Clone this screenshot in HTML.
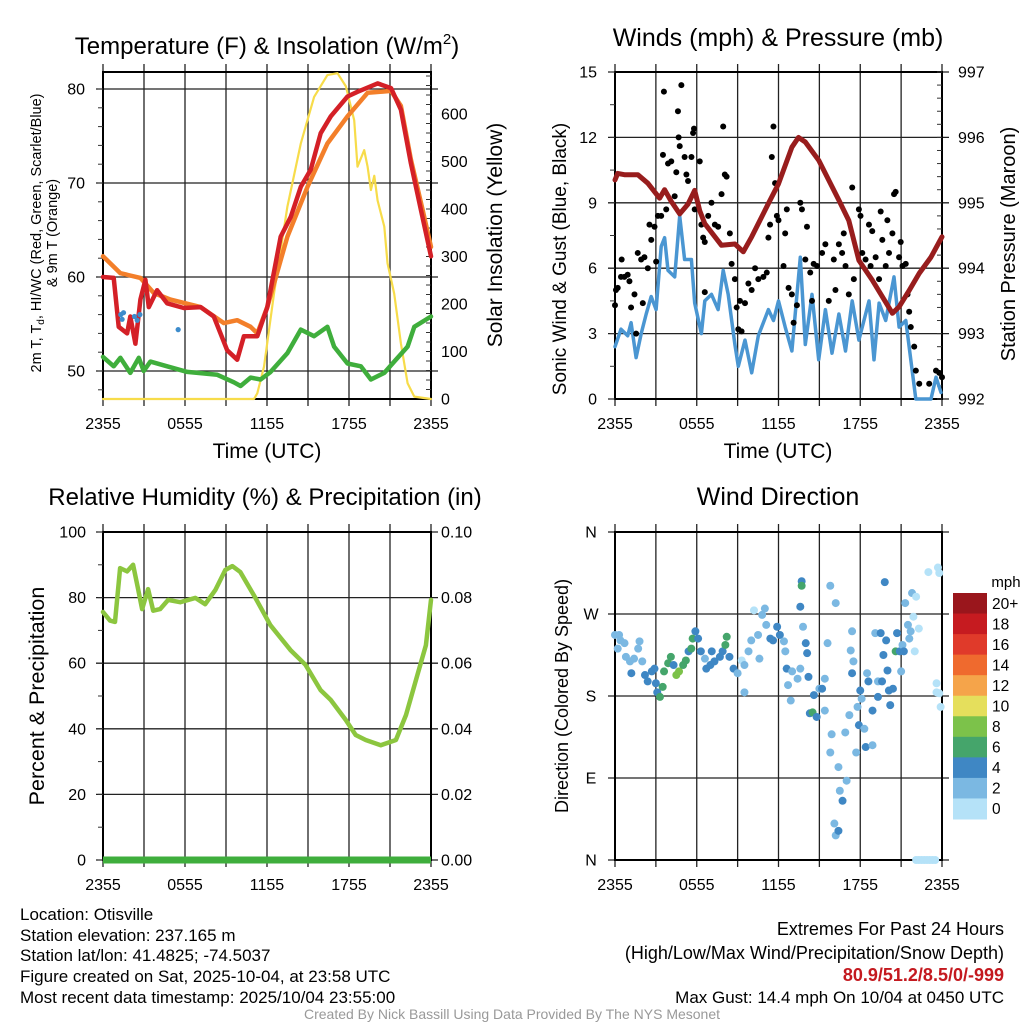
<!DOCTYPE html>
<html><head><meta charset="utf-8"><style>
body{margin:0;background:#fff}
svg{display:block;font-family:"Liberation Sans",sans-serif}
</style></head><body>
<svg id="fig" width="1024" height="1024" viewBox="0 0 1024 1024">
<g id="gp1"></g>
<g id="gp2"></g>
<g id="gp3"></g>
<g id="gp4"></g>
<g id="texts">
<text x="267" y="54" font-size="24" text-anchor="middle">Temperature (F) &amp; Insolation (W/m<tspan font-size="15" dy="-10">2</tspan><tspan dy="10">)</tspan></text>
<text x="778" y="46" font-size="25" text-anchor="middle">Winds (mph) &amp; Pressure (mb)</text>
<text x="265" y="505" font-size="24" text-anchor="middle">Relative Humidity (%) &amp; Precipitation (in)</text>
<text x="778" y="505" font-size="25" text-anchor="middle">Wind Direction</text>
<text x="267" y="458" font-size="21" text-anchor="middle">Time (UTC)</text>
<text x="778" y="458" font-size="21" text-anchor="middle">Time (UTC)</text>
<g font-size="14.5" text-anchor="middle">
<text transform="translate(41,233) rotate(-90)">2m T, T<tspan font-size="10" dy="3">d</tspan><tspan dy="-3">, HI/WC (Red, Green, Scarlet/Blue)</tspan></text>
<text transform="translate(57,233) rotate(-90)">&amp; 9m T (Orange)</text>
</g>
<text transform="translate(502,235) rotate(-90)" font-size="21" text-anchor="middle">Solar Insolation (Yellow)</text>
<text transform="translate(566,259) rotate(-90)" font-size="19" text-anchor="middle">Sonic Wind &amp; Gust (Blue, Black)</text>
<text transform="translate(1015,244) rotate(-90)" font-size="20" text-anchor="middle">Station Pressure (Maroon)</text>
<text transform="translate(44,696) rotate(-90)" font-size="21.5" text-anchor="middle">Percent &amp; Precipitation</text>
<text transform="translate(568,696) rotate(-90)" font-size="18" text-anchor="middle">Direction (Colored By Speed)</text>
<g font-size="17">
<text x="20" y="920">Location: Otisville</text>
<text x="20" y="941">Station elevation: 237.165 m</text>
<text x="20" y="961">Station lat/lon: 41.4825; -74.5037</text>
<text x="20" y="982">Figure created on Sat, 2025-10-04, at 23:58 UTC</text>
<text x="20" y="1003">Most recent data timestamp: 2025/10/04 23:55:00</text>
</g>
<g font-size="18" text-anchor="end">
<text x="1004" y="935">Extremes For Past 24 Hours</text>
<text x="1004" y="959">(High/Low/Max Wind/Precipitation/Snow Depth)</text>
<text x="1004" y="981" fill="#c4191f" font-weight="bold">80.9/51.2/8.5/0/-999</text>
<text x="1004" y="1003" font-size="17">Max Gust: 14.4 mph On 10/04 at 0450 UTC</text>
</g>
<text x="512" y="1019" font-size="14" fill="#999" text-anchor="middle">Created By Nick Bassill Using Data Provided By The NYS Mesonet</text>
</g>
</svg>
<script>
// ---- Panel 1 data ----
const tempH=[0,0.78,1.15,1.76,2.0,2.37,2.74,3.1,3.35,3.96,4.69,5.91,7.14,8.11,9.09,9.82,10.31,11.29,12.02,13.0,13.74,14.47,15.2,15.93,16.67,17.89,18.62,20.09,21.07,21.8,22.53,23.27,24];
const tempV=[60.0,59.9,54.7,54.0,55.8,52.9,57.6,59.7,56.8,58.6,57.2,56.7,56.8,55.8,52.2,51.2,53.7,53.7,56.8,64.3,66.4,69.6,71.4,75.3,77.1,79.2,79.7,80.6,80.1,77.8,72.1,67.1,62.2];
const t9H=[0,1.27,2.74,3.72,4.94,7.14,8.85,9.82,10.8,11.29,12.02,13.49,14.96,16.42,17.89,19.36,21.07,21.8,22.53,23.39,24];
const t9V=[62.2,60.4,59.9,58.3,57.6,56.8,55.1,55.4,54.7,54.0,56.8,64.3,69.6,74.2,77.1,79.6,79.8,78.2,72.5,67.1,63.2];
const dewH=[0,0.78,1.27,2.0,2.62,2.98,3.47,4.69,6.16,8.36,9.58,10.07,10.8,11.53,12.26,13.49,14.47,15.45,16.42,16.91,17.89,18.87,19.6,20.58,21.31,22.29,22.78,24];
const dewV=[51.5,50.5,51.4,49.8,51.4,50.0,51.0,50.5,49.9,49.6,48.8,48.4,49.3,49.1,49.9,51.9,54.4,53.7,54.7,52.6,50.8,50.5,49.1,49.8,51.0,52.6,54.7,55.8];
const hiH=[1.3,1.4,1.5,2.3,2.5,2.7,5.5];
const hiV=[56.0,55.5,56.2,55.8,55.4,56.0,54.4];
const solH=[0,11.05,11.29,11.78,12.51,13.49,14.47,15.45,16.42,17.16,17.77,18.38,18.62,19.11,19.36,19.6,19.85,20.09,20.58,20.82,21.31,21.8,22.29,22.78,24];
const solV=[0,0,12,68,222,405,538,636,682,686,658,587,489,524,489,440,470,418,363,286,222,117,33,5,0];
const tempTicks=[50,60,70,80];
const solTicks=[0,100,200,300,400,500,600];
const timeLabels=["2355","0555","1155","1755","2355"];
// ---- Panel 2 data ----
const presH=[0,0.2,0.69,1.67,2.41,3.27,3.64,4.13,4.75,5.36,5.85,6.22,6.59,7.82,8.8,9.42,10.03,11.26,12.0,12.98,13.47,13.97,14.95,16.43,17.16,17.9,18.88,20.36,20.85,21.59,22.33,23.19,24];
const presV=[995.35,995.45,995.43,995.43,995.3,995.07,995.2,995.02,994.83,994.98,995.19,994.88,994.68,994.35,994.37,994.25,994.48,994.99,995.29,995.85,996.0,995.93,995.65,995.04,994.73,994.12,993.82,993.31,993.41,993.66,993.92,994.17,994.48];
const windH=[0,0.44,0.93,1.18,1.55,1.92,2.29,2.66,3.02,3.39,3.64,3.89,4.38,4.75,5.11,5.61,5.85,6.34,6.59,7.08,7.57,7.94,8.31,8.8,9.05,9.54,10.03,10.52,11.26,11.63,12.0,12.49,12.98,13.6,13.97,14.46,14.95,15.44,15.93,16.43,16.92,17.41,17.9,18.64,19.01,19.38,19.87,20.48,20.85,21.34,21.71,22.08,23.19,23.56,23.93];
const windV=[2.4,3.2,2.9,3.5,1.9,3.0,3.9,4.7,4.1,7.0,7.4,5.9,5.6,8.4,6.4,6.4,4.4,3.0,4.5,4.8,4.1,5.9,4.8,2.5,1.5,2.7,1.2,2.9,4.1,3.6,4.5,3.3,2.2,6.5,2.5,4.8,1.8,4.1,2.1,3.9,2.2,4.5,2.7,4.5,1.8,4.4,3.6,5.6,3.3,3.6,1.8,0,0,1.0,0.3];
const gustH=[0,0.07,0.2,0.44,0.49,0.69,0.93,1.06,1.18,1.43,1.55,1.67,1.92,2.04,2.16,2.41,2.53,2.66,2.9,3.02,3.15,3.39,3.52,3.59,3.76,3.89,4.13,4.38,4.5,4.62,4.67,4.75,4.87,5.11,5.24,5.36,5.61,5.73,5.8,5.85,6.22,6.34,6.47,6.59,6.59,6.84,7.08,7.33,7.57,7.82,7.94,8.06,8.19,8.43,8.56,8.8,8.93,9.05,9.17,9.29,9.54,9.79,10.03,10.28,10.52,10.89,11.14,11.26,11.38,11.51,11.63,11.75,11.88,12.0,12.37,12.49,12.61,12.74,12.98,13.11,13.35,13.6,13.72,13.97,14.09,14.33,14.46,14.58,14.83,15.2,15.44,15.69,16.06,16.18,16.43,16.67,16.79,16.92,17.16,17.41,17.53,17.9,18.02,18.15,18.39,18.64,18.76,18.88,19.13,19.38,19.5,19.62,19.87,19.99,20.11,20.36,20.48,20.6,20.85,20.97,21.1,21.34,21.47,21.59,21.71,21.96,22.08,22.33,23.06,23.56,23.8,24.0];
const gustV=[4.3,5.0,5.1,5.6,6.4,5.6,5.7,5.4,4.2,4.8,3.0,6.7,6.4,4.4,6.5,6.0,8.0,7.3,7.9,6.3,8.4,8.4,11.2,14.1,8.7,10.8,10.9,9.3,10.4,13.2,12.0,11.6,14.4,11.1,10.3,10.0,11.1,12.2,12.4,8.7,10.9,8.0,7.4,7.2,4.9,8.4,9.0,8.0,7.9,9.4,12.5,10.3,10.2,7.6,6.2,5.5,4.2,3.2,4.5,3.1,4.4,5.3,5.0,6.0,5.5,5.6,5.8,7.4,8.0,11.1,12.5,9.9,8.4,8.2,6.1,7.6,8.7,5.1,4.8,3.5,4.3,9.0,8.7,6.4,7.9,5.8,4.5,6.2,6.1,6.7,7.1,4.5,6.4,5.0,7.1,6.7,7.6,6.1,4.8,9.7,5.5,8.7,8.4,6.7,6.4,8.0,6.1,7.7,6.5,5.5,8.6,7.3,6.1,8.2,6.7,7.6,9.4,9.5,6.5,7.2,6.1,6.2,4.8,4.0,3.3,2.4,1.3,0.7,0.7,1.3,1.2,1.0];
const windTicks=[0,3,6,9,12,15];
const presTicks=[992,993,994,995,996,997];
// ---- Panel 3 data ----
const rhH=[0,0.51,0.88,1.25,1.76,2.2,2.57,2.86,3.3,3.67,4.18,4.77,5.65,6.75,7.48,8.22,8.95,9.46,10.05,11.15,12.25,13.72,14.82,15.92,16.66,17.76,18.49,19.22,20.33,21.43,22.17,22.9,23.63,24];
const rhV=[75.6,73,72.6,89,88,90,82.6,76.5,82.6,76,76.5,79.3,78.6,79.9,78,82.3,88.4,89.6,87.8,79.9,71.6,64,59.5,51.8,48.8,42.7,38.1,36.6,35,36.6,44.2,54.9,65.5,79.3];
const rhTicks=[0,20,40,60,80,100];
const precipTicks=["0.00","0.02","0.04","0.06","0.08","0.10"];
// ---- Panel 4 data ----
const dirH=[0,0.3,0.4,0.2,0.7,0.8,1.1,1.2,1.4,1.7,1.8,2.0,2.2,2.4,2.7,2.9,3.0,3.1,3.3,3.5,3.6,3.9,4.1,4.3,4.5,4.7,5.0,5.2,5.4,5.6,5.7,5.9,6.1,6.3,6.6,6.7,7.0,7.1,7.3,7.7,7.9,8.1,8.2,8.4,8.7,9.0,9.3,9.5,9.5,9.8,10.0,10.2,10.5,10.6,10.8,11.0,11.1,11.4,11.6,11.9,12.1,12.4,12.5,12.6,12.7,12.9,13.0,13.4,13.6,13.7,13.7,13.6,13.8,14.0,14.1,14.2,14.3,14.5,14.6,14.8,15.0,15.2,15.4,15.4,15.6,15.8,15.9,15.8,16.2,16.4,16.5,16.7,16.9,17.0,17.2,17.3,17.4,17.4,17.5,17.7,17.8,17.9,18.0,18.1,18.3,18.4,18.5,18.6,18.9,18.9,19.1,19.3,19.3,19.5,19.6,19.7,19.8,19.9,20.0,20.1,20.2,20.4,20.6,20.7,20.9,21.0,21.1,21.2,21.3,21.5,21.6,21.7,21.8,21.9,22.0,22.1,22.3,23.0,23.7,23.8,23.6,23.6,23.8,23.9,16.1,16.2,16.4,22.1,22.3,22.5,22.7,22.9,23.1,23.3,23.5];
const dirV=[247,247,241,232,238,223,218,205,221,232,240,218,203,196,207,210,194,184,179,190,207,216,223,214,203,207,214,219,229,232,243,251,243,229,221,210,214,229,218,223,229,236,245,223,210,205,219,214,184,229,241,274,247,221,269,276,258,243,241,256,247,240,229,210,192,175,207,199,210,306,301,278,256,238,227,201,161,162,181,157,188,188,164,199,238,301,138,118,282,102,76,65,140,87,159,230,251,205,218,118,168,148,186,177,144,124,205,196,126,164,249,179,196,249,196,225,305,241,208,186,170,188,229,249,229,207,236,229,282,258,243,251,293,267,229,289,254,316,321,315,194,184,183,168,40,27,32,0,0,0,0,0,0,0,0];
const dirSpd=[3,3,3,3,3,3,3,5,3,3,3,3,5,5,5,5,5,5,7,7,7,7,7,5,9,9,7,7,5,7,7,5,5,5,3,5,5,5,5,5,5,7,7,5,5,3,1,3,3,3,3,1,3,3,3,3,3,5,5,5,5,3,3,5,3,3,3,3,3,5,7,5,3,5,5,5,5,7,5,5,3,5,3,3,3,3,3,3,3,3,3,5,3,3,3,3,3,5,3,3,3,5,5,3,3,5,3,5,3,5,3,5,3,5,5,5,5,5,5,5,5,5,7,5,5,3,3,5,3,3,3,3,3,1,1,1,1,1,1,1,1,1,1,1,3,3,5,1,1,1,1,1,1,1,1];
const dirTicks=["N","E","S","W","N"];
const speedBins=["0","2","4","6","8","10","12","14","16","18","20+"];
const binColors=["#b5e2f8","#7bb8e2","#3f87c4","#45a56b","#7cc24a","#e5df5c","#f5a44a","#ef6a2e","#e03a2a","#c61b20","#9a161c"];

const NS="http://www.w3.org/2000/svg";
function mk(parent,tag,attrs){const e=document.createElementNS(NS,tag);for(const k in attrs)e.setAttribute(k,attrs[k]);parent.appendChild(e);return e;}
function axX(x0,x1){return h=>x0+h/24*(x1-x0);}
function axY(y0,y1,v0,v1){return v=>y0+(v-v0)/(v1-v0)*(y1-y0);}
function pathD(hs,vs,sx,sy){return hs.map((h,i)=>(i?'L':'M')+sx(h).toFixed(1)+','+sy(vs[i]).toFixed(1)).join('');}

function frame(g,L,R,T,B,hLines,name){
  const sx=axX(L,R);
  for(let h=0;h<=24;h+=3){
    const x=sx(h);
    const ln=mk(g,'line',{x1:x,x2:x,y1:T-8,y2:B+7,stroke:'#222','stroke-width':1.3});
    
    
  }
  hLines.forEach(y=>{
    const ln=mk(g,'line',{x1:L-7,x2:R+7,y1:y,y2:y,stroke:'#222','stroke-width':1.3});
    
    
  });
  const bx=mk(g,'rect',{x:L,y:T,width:R-L,height:B-T,fill:'none',stroke:'#000','stroke-width':2});
  
  
  timeLabels.forEach((t,i)=>{
    const tx=mk(g,'text',{x:sx(i*6),y:B+30,'font-size':16,'text-anchor':'middle'});
    tx.textContent=t;
    
    
  });
  return sx;
}
function ylabels(g,vals,labels,sy,x,anchor,name){
  vals.forEach((v,i)=>{
    const t=mk(g,'text',{x:x,y:sy(v)+5.5,'font-size':16,'text-anchor':anchor});
    t.textContent=labels[i];
    
    
  });
}
function minorTicks(g,x,dir,from,to,step,sy){
  for(let v=from;v<=to+1e-9;v+=step){const y=sy(v);mk(g,'line',{x1:x,x2:x+dir*5,y1:y,y2:y,stroke:'#333','stroke-width':1});}
}
function line(g,hs,vs,sx,sy,col,w,name){
  const p=mk(g,'path',{d:pathD(hs,vs,sx,sy),fill:'none',stroke:col,'stroke-width':w,'stroke-linejoin':'round','stroke-linecap':'round'});
  
  
}

// Panel 1
(function(){
  const g=document.getElementById('gp1');
  const L=103,R=431,T=72,B=399;
  const sy=axY(371,89,50,80);
  const sS=axY(399,114,0,600);
  const sx=frame(g,L,R,T,B,tempTicks.map(sy),'temp');
  minorTicks(g,L,-1,48,80,2,sy);
  minorTicks(g,R,-1,0,680,20,sS);
  ylabels(g,tempTicks,tempTicks.map(String),sy,85,'end','temp-tick-label');
  ylabels(g,solTicks,solTicks.map(String),sS,441,'start','solar-tick-label');
  line(g,solH,solV,sx,sS,'#f7dc4a',2.2,'solar-line');
  line(g,dewH,dewV,sx,sy,'#3fae3c',4.5,'dewpoint-line');
  line(g,t9H,t9V,sx,sy,'#f37f2a',4.5,'temp-9m-line');
  line(g,tempH,tempV,sx,sy,'#d42027',4.5,'temp-2m-line');
  hiH.forEach((h,i)=>{const c=mk(g,'circle',{cx:sx(h),cy:sy(hiV[i]),r:2.6,fill:'#3d8ccc'});
    
    });
})();
// Panel 2
(function(){
  const g=document.getElementById('gp2');
  const L=615,R=942,T=72,B=399;
  const sy=axY(399,72,0,15);
  const sP=axY(399,72,992,997);
  const sx=frame(g,L,R,T,B,windTicks.map(sy),'wind');
  minorTicks(g,L,-1,0,15,1.5,sy);
  minorTicks(g,R,-1,992,997,0.2,sP);
  ylabels(g,windTicks,windTicks.map(String),sy,597,'end','wind-tick-label');
  ylabels(g,presTicks,presTicks.map(String),sP,958,'start','pressure-tick-label');
  line(g,windH,windV,sx,sy,'#4a96d2',3.5,'wind-speed-line');
  gustH.forEach((h,i)=>{const c=mk(g,'circle',{cx:sx(h),cy:sy(gustV[i]),r:3,fill:'#000'});
    
    });
  line(g,presH,presV,sx,sP,'#981d1d',5,'pressure-line');
})();
// Panel 3
(function(){
  const g=document.getElementById('gp3');
  const L=103,R=431,T=532,B=860;
  const sy=axY(860,532,0,100);
  const sx=frame(g,L,R,T,B,rhTicks.map(sy),'rh');
  minorTicks(g,L,-1,0,100,10,sy);
  ylabels(g,rhTicks,rhTicks.map(String),sy,86,'end','rh-tick-label');
  ylabels(g,rhTicks,precipTicks,sy,441,'start','precip-tick-label');
  line(g,rhH,rhV,sx,sy,'#8cc63f',4.5,'rh-line');
  const p=mk(g,'line',{x1:L,x2:R,y1:sy(0),y2:sy(0),stroke:'#3fae3c','stroke-width':7});
  
  
})();
// Panel 4
(function(){
  const g=document.getElementById('gp4');
  const L=615,R=942,T=532,B=860;
  const sy=axY(860,532,0,360);
  const dv=[0,90,180,270,360];
  const sx=frame(g,L,R,T,B,dv.map(sy),'dir');
  ylabels(g,dv,dirTicks,sy,591,'middle','direction-tick-label');
  dirH.forEach((h,i)=>{
    const bi=Math.min(10,Math.floor(dirSpd[i]/2));
    const c=mk(g,'circle',{cx:sx(h),cy:sy(dirV[i]),r:4,fill:binColors[bi]});
    
    
  });
  const cb=mk(g,'g',{});
  
  
  const t=mk(cb,'text',{x:1006,y:587,'font-size':15,'text-anchor':'middle'});t.textContent='mph';
  const top=593,hgt=226/11;
  speedBins.forEach((s,i)=>{
    const k=10-i;
    const r=mk(cb,'rect',{x:953,y:top+i*hgt,width:34,height:hgt+0.5,fill:binColors[k]});
    
    
    const tx=mk(cb,'text',{x:992,y:top+i*hgt+hgt/2+5.5,'font-size':15.5});
    tx.textContent=speedBins[k];
    
    
  });
})();
</script>
</body></html>
